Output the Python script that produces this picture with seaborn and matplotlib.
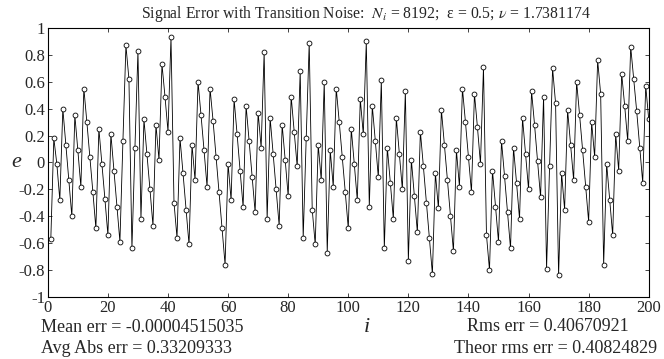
import matplotlib
matplotlib.use("Agg")
import matplotlib.pyplot as plt
import seaborn as sns
import numpy as np
import pandas as pd

# index values 1..200
idx = list(range(1, 201))
err = [
    -0.57, 0.18, -0.01, -0.28, 0.40, 0.13, -0.13, -0.40, 0.35, 0.09,
    -0.18, 0.55, 0.30, 0.04, -0.22, -0.49, 0.25, -0.01, -0.27, -0.54,
    0.21, -0.06, -0.33, -0.59, 0.16, 0.87, 0.62, -0.64, 0.11, 0.83,
    -0.42, 0.32, 0.06, -0.20, -0.47, 0.28, 0.02, 0.73, 0.49, 0.23,
    0.93, -0.30, -0.56, 0.18, -0.08, -0.35, -0.61, 0.13, -0.13, 0.60,
    0.35, 0.09, -0.18, 0.55, 0.31, 0.04, -0.22, -0.49, -0.76, -0.01,
    -0.28, 0.47, 0.21, -0.06, -0.33, 0.42, 0.16, -0.11, -0.37, 0.37,
    0.11, 0.82, -0.42, 0.33, 0.06, -0.20, -0.47, 0.28, 0.02, -0.25,
    0.49, 0.23, -0.03, 0.68, -0.56, 0.18, 0.89, -0.35, -0.61, 0.13,
    -0.13, 0.60, -0.67, 0.09, -0.18, 0.55, 0.30, 0.04, -0.22, -0.49,
    0.25, -0.01, -0.28, 0.47, 0.21, 0.90, -0.33, 0.42, 0.16, -0.11,
    0.61, -0.64, 0.11, -0.15, -0.42, 0.33, 0.06, -0.20, 0.53, -0.73,
    0.02, -0.25, -0.52, 0.23, -0.03, -0.30, -0.56, -0.83, -0.08, -0.34,
    0.39, 0.13, -0.13, -0.40, -0.66, 0.09, -0.18, 0.55, 0.30, 0.04,
    -0.22, 0.51, 0.26, -0.01, 0.71, -0.54, -0.80, -0.06, -0.33, -0.59,
    0.16, -0.10, -0.37, -0.64, 0.11, -0.15, -0.42, 0.33, 0.06, -0.20,
    0.53, 0.28, 0.01, -0.26, 0.49, -0.79, -0.03, 0.70, 0.44, -0.84,
    -0.08, -0.35, 0.39, 0.13, -0.13, 0.60, 0.35, 0.09, -0.18, -0.44,
    0.30, 0.04, 0.76, 0.51, -0.76, -0.01, -0.28, -0.54, 0.21, -0.06,
    0.66, 0.42, 0.16, 0.86, 0.62, 0.38, 0.11, -0.15, 0.57, 0.32,
]

x_ticks = [0, 20, 40, 60, 80, 100, 120, 140, 160, 180, 200]
y_ticks = [-1, -0.8, -0.6, -0.4, -0.2, 0, 0.2, 0.4, 0.6, 0.8, 1]
y_tick_labels = ["-1", "-0.8", "-0.6", "-0.4", "-0.2", "0", "0.2", "0.4", "0.6", "0.8", "1"]

title = r"Signal Error with Transition Noise:  $N_i$ = 8192;  ε = 0.5; $\nu$ = 1.7381174"
stats_left = ["Mean err = -0.00004515035", "Avg Abs err = 0.33209333"]
stats_right = ["Rms err = 0.40670921", "Theor rms err = 0.40824829"]

df = pd.DataFrame({"i": idx, "e": err})

sns.set_style("ticks")
plt.rcParams["font.family"] = ["Liberation Serif", "DejaVu Serif"]
plt.rcParams["mathtext.fontset"] = "stix"

fig = plt.figure(figsize=(6.64, 3.59), dpi=100)
ax = fig.add_axes([0.072, 0.173, 0.905, 0.749])

sns.lineplot(data=df, x="i", y="e", ax=ax, color="black", linewidth=0.6,
             marker="o", markersize=3.5, markerfacecolor="white",
             markeredgecolor="black", markeredgewidth=0.6)

ax.set_xlim(0, 200)
ax.set_ylim(-1, 1)
ax.set_xticks(x_ticks)
ax.set_xticklabels([str(t) for t in x_ticks])
ax.set_yticks(y_ticks)
ax.set_yticklabels(y_tick_labels)
ax.tick_params(direction="in", top=True, right=True, length=3, width=0.6,
               labelsize=12, pad=2)
for s in ax.spines.values():
    s.set_visible(True)
    s.set_linewidth(0.8)
    s.set_color("black")

ax.set_xlabel("")
ax.set_ylabel("")
fig.text(0.025, 0.548, "e", fontsize=16, style="italic", ha="center", va="center")
fig.text(0.553, 0.088, "i", fontsize=16, style="italic", ha="center", va="center")

fig.text(0.551, 0.962, title, fontsize=11.3, ha="center", va="center")

fig.text(0.062, 0.088, stats_left[0], fontsize=13, ha="left", va="center")
fig.text(0.062, 0.030, stats_left[1], fontsize=13, ha="left", va="center")
fig.text(0.703, 0.090, stats_right[0], fontsize=13, ha="left", va="center")
fig.text(0.684, 0.030, stats_right[1], fontsize=13, ha="left", va="center")

fig.savefig("out.png", dpi=100)
